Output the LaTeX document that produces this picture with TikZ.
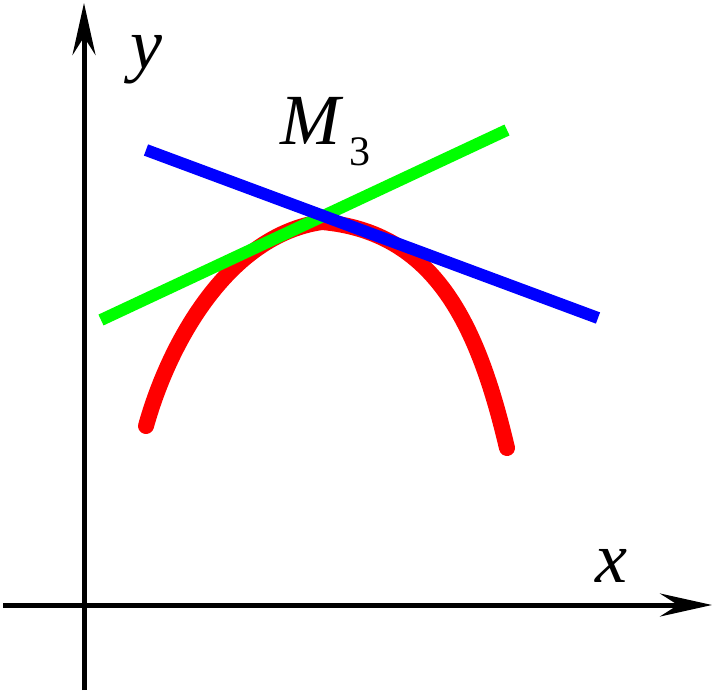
\documentclass[tikz,border=0pt]{standalone}
\usepackage{fontspec}
\setmainfont{Liberation Serif}
\usetikzlibrary{arrows.meta}
\begin{document}
\begin{tikzpicture}[x=1pt,y=-1pt,
  axis/.style={line width=5pt,-{Stealth[length=52pt,width=23pt,inset=18pt]}},
  tangent/.style={line width=12pt},
  lbl/.style={inner sep=0pt,font=\fontsize{72}{72}\selectfont}]
\useasboundingbox (0,0) rectangle (721,693);
\coordinate (xs) at (3,605);
\coordinate (xe) at (712,605);
\coordinate (ys) at (84,690);
\coordinate (ye) at (84,3);
\draw[axis] (xs) -- (xe);
\draw[axis] (ys) -- (ye);
\coordinate (c0) at (146,426);
\coordinate (c1) at (322,222);
\coordinate (c2) at (507,448);
\draw[red,line width=16pt,line cap=round,line join=round]
  (c0) .. controls (170,340) and (230,235) .. (c1)
  .. controls (435,232) and (478,325) .. (c2);
\coordinate (g0) at (101,320);
\coordinate (g1) at (507,130);
\draw[tangent,green] (g0) -- (g1);
\coordinate (b0) at (146,150);
\coordinate (b1) at (598,318);
\draw[tangent,blue] (b0) -- (b1);
\node[lbl] (ylab) at (146,60) {\textit{y}};
\node[lbl] (xlab) at (611,566) {\textit{x}};
\node[lbl,anchor=base west] (mlab) at (280,145) {\textit{M}};
\node[inner sep=0pt,anchor=base west,font=\fontsize{42}{42}\selectfont] (sub) at (349,165) {3};
\end{tikzpicture}
\end{document}
